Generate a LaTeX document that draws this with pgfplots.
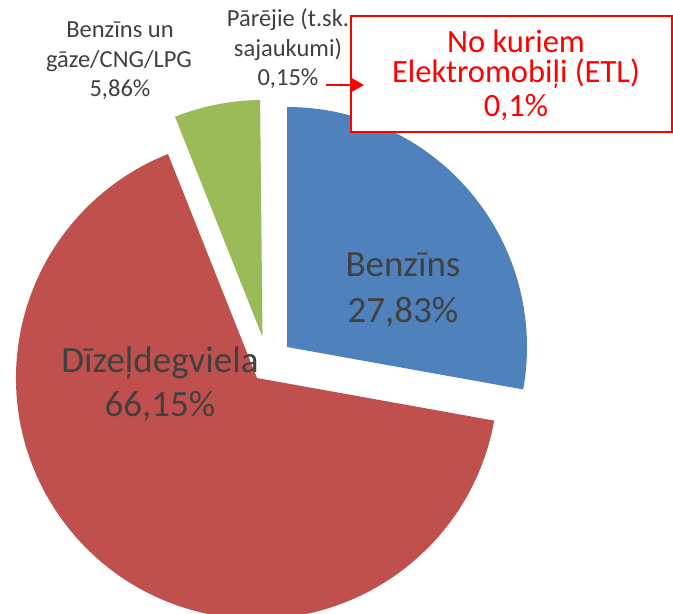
\documentclass[border=0pt]{standalone}
\usepackage{pgfplots}
\pgfplotsset{compat=1.18}
\usetikzlibrary{arrows.meta}
\usepackage{fontspec}
\setmainfont{Carlito}
\definecolor{cBlue}{HTML}{4F81BD}
\definecolor{cRed}{HTML}{C0504D}
\definecolor{cGreen}{HTML}{9BBB59}
\definecolor{cText}{HTML}{404040}
\definecolor{cBox}{HTML}{FF0000}
% data (percent)
\def\vBenz{27.83}
\def\vDiz{66.15}
\def\vGaz{5.86}
\def\vPar{0.15}
\pgfmathsetmacro{\aA}{90}
\pgfmathsetmacro{\aB}{\aA-3.6*\vBenz}
\pgfmathsetmacro{\aC}{\aB-3.6*\vDiz}
\pgfmathsetmacro{\aD}{\aC-3.6*\vGaz}
\newcommand{\lbl}[3]{\fontsize{#1}{#1}\selectfont #3}
\begin{document}
\begin{tikzpicture}
\clip (0,0) rectangle (673pt,614pt);
\begin{axis}[at={(0,0)}, anchor=south west, scale only axis,
  width=673pt, height=614pt, xmin=0, xmax=673, ymin=0, ymax=614,
  hide axis, clip=false]
% slices
\fill[cBlue] (axis cs:287,267) -- ++(\aA:240pt) arc[start angle=\aA, end angle=\aB, radius=240pt] -- cycle;
\fill[cRed] (axis cs:257,236) -- ++(\aB:241pt) arc[start angle=\aB, end angle=\aC, radius=241pt] -- cycle;
\fill[cGreen] (axis cs:262.5,277) -- ++(\aC:237pt) arc[start angle=\aC, end angle=\aD, radius=237pt] -- cycle;
% labels
\begin{scope}[every node/.style={anchor=base, inner sep=0pt, text=cText}]
\node at (axis cs:403,337) {\lbl{37}{}{Benzīns}};
\node at (axis cs:403,291) {\lbl{37}{}{27,83\%}};
\node at (axis cs:160,241) {\lbl{37}{}{Dīzeļdegviela}};
\node at (axis cs:160,197) {\lbl{37}{}{66,15\%}};
\node at (axis cs:120,576) {\lbl{24.5}{}{Benzīns un}};
\node at (axis cs:119,546) {\lbl{24.5}{}{gāze/CNG/LPG}};
\node at (axis cs:120,517) {\lbl{24.5}{}{5,86\%}};
\node at (axis cs:288,587) {\lbl{24.5}{}{Pārējie (t.sk.}};
\node at (axis cs:288,557) {\lbl{24.5}{}{sajaukumi)}};
\node at (axis cs:288,528) {\lbl{24.5}{}{0,15\%}};
\end{scope}
\draw[cBox, line width=1.5pt, fill=white] (axis cs:351,598) rectangle (axis cs:672,482);
\draw[cBox, line width=2pt, -{Triangle[length=12pt,width=13pt]}] (axis cs:326,529) -- (axis cs:364,529);
\begin{scope}[every node/.style={anchor=base, inner sep=0pt, text=cBox}]
\node at (axis cs:516,561) {\lbl{32.5}{}{No kuriem}};
\node at (axis cs:516,531) {\lbl{32.5}{}{Elektromobiļi (ETL)}};
\node at (axis cs:516,497) {\lbl{32.5}{}{0,1\%}};
\end{scope}
\end{axis}
\end{tikzpicture}
\end{document}
